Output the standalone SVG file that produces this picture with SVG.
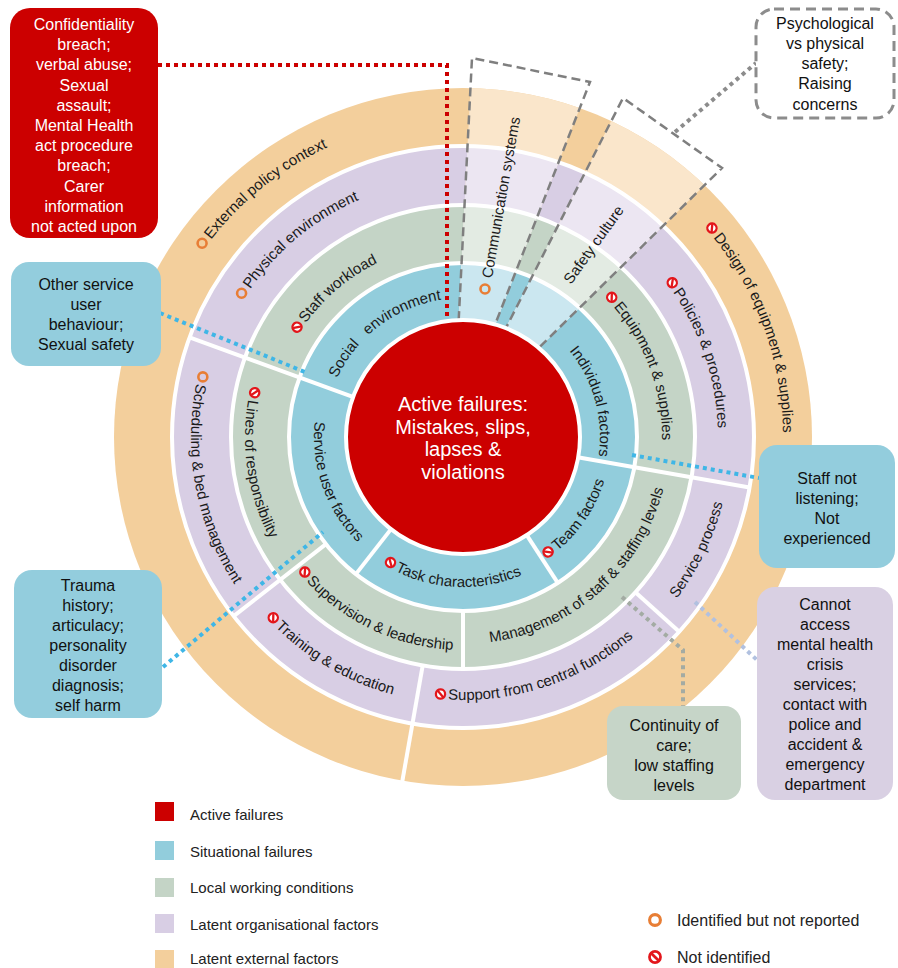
<svg xmlns="http://www.w3.org/2000/svg" width="898" height="968" viewBox="0 0 898 968">
<style>
text{font-family:"Liberation Sans",Arial,sans-serif}
.lbl{font-size:15px;fill:#1a1a1a}
.box{font-size:16px;text-anchor:middle;fill:#111}
.boxw{font-size:16px;text-anchor:middle;fill:#fff}
.leg{font-size:15px;fill:#222}
.leg2{font-size:16px;fill:#222}
.div{stroke:#fff;stroke-width:4}
.ring{stroke:#fff;stroke-width:4}
.dot{fill:none;stroke-width:4;stroke-dasharray:4 4}
.wedge{fill:none;stroke:#7f7f7f;stroke-width:2.5;stroke-dasharray:9 5}
.ctr{font-size:20px;fill:#fff;text-anchor:middle}
</style>
<defs>
<clipPath id="wedges"><polygon points="453,432 472,58 590,82"/><polygon points="453,432 623,98 722,168"/></clipPath>
<g id="ico-o"><circle r="4.5" fill="none" stroke="#E87E35" stroke-width="2.6"/></g>
<g id="ico-x"><circle r="4.6" fill="#fff" stroke="#E3161B" stroke-width="2.3"/><line x1="-3.2" y1="-3.2" x2="3.2" y2="3.2" stroke="#E3161B" stroke-width="2.3"/></g>
<path id="p1" d="M325.35,417.65 A139,139 0 0 1 482.35,299.35"/>
<path id="p2" d="M531.5,318.36 A137,137 0 0 1 582.82,503.42"/>
<path id="p3" d="M551.03,555.98 A148,148 0 0 0 611,437"/>
<path id="p4" d="M388,566.9 A150,150 0 0 0 559.42,551.9"/>
<path id="p5" d="M327.96,374.03 A149,149 0 0 0 397.68,570.92"/>
<path id="p6" d="M301.22,329.93 A194,194 0 0 1 429.32,245.95"/>
<path id="p7" d="M249.77,391.67 A218,218 0 0 0 308.85,591.15"/>
<path id="p8" d="M301.03,575.32 A213,213 0 0 0 499.98,646.76"/>
<path id="p9" d="M444.95,643.21 A207,207 0 0 0 669.87,444.22"/>
<path id="p10" d="M608.07,300.78 A199,199 0 0 1 658.98,471.55"/>
<path id="p11" d="M245.78,295.95 A259,259 0 0 1 418.04,181.93"/>
<path id="p12" d="M197.96,375.8 A272,272 0 0 0 270.67,629.33"/>
<path id="p13" d="M269.64,621.12 A267,267 0 0 0 463,704"/>
<path id="p14" d="M440.06,699 A263,263 0 0 0 664.46,606.06"/>
<path id="p15" d="M652.5,626.5 A268,268 0 0 0 729.34,466.88"/>
<path id="p16" d="M668.25,285.68 A255,255 0 0 1 714.12,481.28"/>
<path id="p17" d="M206.1,246.22 A320,320 0 0 1 407.43,121.86"/>
<path id="p18" d="M708.12,231.3 A320,320 0 0 1 778.14,492.57"/>
</defs>
<rect width="898" height="968" fill="#fff"/>

<g id="rings">
<circle cx="463" cy="437" r="349" fill="#F3CF9C"/>
<circle class="ring" cx="463" cy="437" r="291" fill="#D8CEE4"/>
<circle class="ring" cx="463" cy="437" r="232" fill="#C4D4C6"/>
<circle class="ring" cx="463" cy="437" r="174" fill="#92CDDC"/>
<g clip-path="url(#wedges)">
<circle cx="463" cy="437" r="349" fill="#FAE6CB"/>
<circle class="ring" cx="463" cy="437" r="291" fill="#ECE6F2"/>
<circle class="ring" cx="463" cy="437" r="232" fill="#E3EBE3"/>
<circle class="ring" cx="463" cy="437" r="174" fill="#CBE7F0"/>
</g>
<g id="dividers">
<line class="div" x1="354.93" y1="397.67" x2="189.55" y2="337.48"/>
<line class="div" x1="392.2" y1="527.62" x2="355.87" y2="574.11"/>
<line class="div" x1="525.63" y1="533.45" x2="557.76" y2="582.93"/>
<line class="div" x1="576.25" y1="456.96" x2="749.58" y2="487.53"/>
<line class="div" x1="325.89" y1="544.13" x2="233.69" y2="616.17"/>
<line class="div" x1="463" y1="611" x2="463" y2="669"/>
<line class="div" x1="422.72" y1="665.47" x2="401.89" y2="783.65"/>
<line class="div" x1="635.4" y1="592.23" x2="679.25" y2="631.71"/>
</g>
</g>

<g id="highlight-wedges">
<polyline class="wedge" points="453,432 472,58 590,82 453,432"/>
<polyline class="wedge" points="453,432 623,98 722,168 453,432"/>
</g>

<g id="connectors">
<polyline class="dot" stroke="#CC0000" stroke-dasharray="4 3.5" points="158,65 447,65 447,322"/>
<line class="dot" stroke="#3FB6E6" x1="160" y1="313" x2="305" y2="372"/>
<line class="dot" stroke="#3FB6E6" x1="163" y1="667" x2="323" y2="532"/>
<line class="dot" stroke="#3FB6E6" x1="632" y1="455" x2="759" y2="478"/>
<line class="dot" stroke="#B1C1E0" x1="695" y1="602" x2="757" y2="660"/>
<polyline class="dot" stroke="#A3ABA3" points="622,597 683,650 683,706"/>
<line class="dot" stroke="#8C8C8C" x1="675" y1="132" x2="756" y2="63"/>
</g>

<g id="active-failures">
<circle cx="463" cy="437" r="117" fill="#CC0000" stroke="#fff" stroke-width="4"/>
<text class="ctr" x="463" y="411">Active failures:</text>
<text class="ctr" x="463" y="433.5">Mistakes, slips,</text>
<text class="ctr" x="463" y="456">lapses &amp;</text>
<text class="ctr" x="463" y="478.5">violations</text>
</g>

<g id="social-environment"><text class="lbl" xml:space="preserve"><textPath href="#p1" startOffset="50%" text-anchor="middle">Social   environment</textPath></text></g>
<g id="individual-factors"><text class="lbl"><textPath href="#p2" startOffset="50%" text-anchor="middle">Individual factors</textPath></text></g>
<g id="team-factors"><use href="#ico-x" transform="translate(548.06,551.96) rotate(-36.5)"/><text class="lbl"><textPath href="#p3" startOffset="8">Team factors</textPath></text></g>
<g id="task-characteristics"><use href="#ico-x" transform="translate(390.5,562.57) rotate(30)"/><text class="lbl"><textPath href="#p4" startOffset="8">Task characteristics</textPath></text></g>
<g id="service-user-factors"><text class="lbl"><textPath href="#p5" startOffset="50%" text-anchor="middle">Service user factors</textPath></text></g>
<g id="staff-workload"><use href="#ico-x" transform="translate(297.05,327.17) rotate(-56.5)"/><text class="lbl"><textPath href="#p6" startOffset="8">Staff workload</textPath></text></g>
<g id="lines-of-responsibility"><use href="#ico-x" transform="translate(254.66,392.71) rotate(102)"/><text class="lbl"><textPath href="#p7" startOffset="8">Lines of responsibility</textPath></text></g>
<g id="supervision-leadership"><use href="#ico-x" transform="translate(304.84,572.08) rotate(49.5)"/><text class="lbl"><textPath href="#p8" startOffset="8">Supervision &amp; leadership</textPath></text></g>
<g id="management-staffing"><text class="lbl"><textPath href="#p9" startOffset="50%" text-anchor="middle">Management of staff &amp; staffing levels</textPath></text></g>
<g id="equipment-supplies"><use href="#ico-x" transform="translate(611.72,297.36) rotate(46.8)"/><text class="lbl"><textPath href="#p10" startOffset="8">Equipment &amp; supplies</textPath></text></g>
<g id="physical-environment"><use href="#ico-o" transform="translate(241.58,293.23)"/><text class="lbl"><textPath href="#p11" startOffset="8">Physical environment</textPath></text></g>
<g id="scheduling-bed-management"><use href="#ico-o" transform="translate(202.84,376.92)"/><text class="lbl"><textPath href="#p12" startOffset="8">Scheduling &amp; bed management</textPath></text></g>
<g id="training-education"><use href="#ico-x" transform="translate(273.26,617.68) rotate(46.4)"/><text class="lbl"><textPath href="#p13" startOffset="8">Training &amp; education</textPath></text></g>
<g id="support-central-functions"><use href="#ico-x" transform="translate(440.5,694.02) rotate(5)"/><text class="lbl"><textPath href="#p14" startOffset="8">Support from central functions</textPath></text></g>
<g id="service-process"><text class="lbl"><textPath href="#p15" startOffset="50%" text-anchor="middle">Service process</textPath></text></g>
<g id="policies-procedures"><use href="#ico-x" transform="translate(672.27,282.72) rotate(53.6)"/><text class="lbl"><textPath href="#p16" startOffset="8">Policies &amp; procedures</textPath></text></g>
<g id="external-policy-context"><use href="#ico-o" transform="translate(202.09,243.23)"/><text class="lbl"><textPath href="#p17" startOffset="8">External policy context</textPath></text></g>
<g id="design-equipment-supplies"><use href="#ico-x" transform="translate(711.95,228.09) rotate(50)"/><text class="lbl"><textPath href="#p18" startOffset="8">Design of equipment &amp; supplies</textPath></text></g>
<g id="communication-systems"><use href="#ico-o" transform="translate(485,289)"/><text class="lbl" transform="translate(487,278) rotate(-80)" x="0" y="5">Communication systems</text></g>
<g id="safety-culture"><text class="lbl" transform="translate(567,282) rotate(-54.4)" x="0" y="5">Safety culture</text></g>

<g id="box-active">
<rect x="10" y="8" width="148" height="230" rx="20" fill="#CC0000"/>
<text class="boxw" x="84" y="30">Confidentiality</text>
<text class="boxw" x="84" y="50.2">breach;</text>
<text class="boxw" x="84" y="70.4">verbal abuse;</text>
<text class="boxw" x="84" y="90.6">Sexual</text>
<text class="boxw" x="84" y="110.8">assault;</text>
<text class="boxw" x="84" y="131">Mental Health</text>
<text class="boxw" x="84" y="151.2">act procedure</text>
<text class="boxw" x="84" y="171.4">breach;</text>
<text class="boxw" x="84" y="191.6">Carer</text>
<text class="boxw" x="84" y="211.8">information</text>
<text class="boxw" x="84" y="232">not acted upon</text>
</g>
<g id="box-other-service-user">
<rect x="11" y="262" width="150" height="104" rx="18" fill="#93CDDD"/>
<text class="box" x="86" y="290">Other service</text>
<text class="box" x="86" y="310">user</text>
<text class="box" x="86" y="330">behaviour;</text>
<text class="box" x="86" y="350">Sexual safety</text>
</g>
<g id="box-trauma">
<rect x="14" y="570" width="148" height="148" rx="18" fill="#93CDDD"/>
<text class="box" x="88" y="591">Trauma</text>
<text class="box" x="88" y="611">history;</text>
<text class="box" x="88" y="631">articulacy;</text>
<text class="box" x="88" y="651">personality</text>
<text class="box" x="88" y="671">disorder</text>
<text class="box" x="88" y="691">diagnosis;</text>
<text class="box" x="88" y="711">self harm</text>
</g>
<g id="box-staff-not-listening">
<rect x="759" y="445" width="136" height="123" rx="18" fill="#93CDDD"/>
<text class="box" x="827" y="484">Staff not</text>
<text class="box" x="827" y="504">listening;</text>
<text class="box" x="827" y="524">Not</text>
<text class="box" x="827" y="544">experienced</text>
</g>
<g id="box-cannot-access">
<rect x="757" y="587" width="136" height="213" rx="18" fill="#D9D0E3"/>
<text class="box" x="825" y="610">Cannot</text>
<text class="box" x="825" y="630">access</text>
<text class="box" x="825" y="650">mental health</text>
<text class="box" x="825" y="670">crisis</text>
<text class="box" x="825" y="690">services;</text>
<text class="box" x="825" y="710">contact with</text>
<text class="box" x="825" y="730">police and</text>
<text class="box" x="825" y="750">accident &amp;</text>
<text class="box" x="825" y="770">emergency</text>
<text class="box" x="825" y="790">department</text>
</g>
<g id="box-continuity">
<rect x="607" y="706" width="134" height="94" rx="16" fill="#C6D5C8"/>
<text class="box" x="674" y="731">Continuity of</text>
<text class="box" x="674" y="751">care;</text>
<text class="box" x="674" y="771">low staffing</text>
<text class="box" x="674" y="791">levels</text>
</g>
<g id="box-psychological">
<rect x="756" y="9" width="138" height="109" rx="18" fill="#fff" stroke="#8C8C8C" stroke-width="3" stroke-dasharray="10 6"/>
<text class="box" x="825" y="29">Psychological</text>
<text class="box" x="825" y="49">vs physical</text>
<text class="box" x="825" y="69">safety;</text>
<text class="box" x="825" y="89">Raising</text>
<text class="box" x="825" y="109.5">concerns</text>
</g>

<g id="legend">
<rect x="155" y="802" width="19" height="19" fill="#CC0000"/>
<text class="leg" x="190" y="820">Active failures</text>
<rect x="155" y="841" width="19" height="19" fill="#92CDDC"/>
<text class="leg" x="190" y="857">Situational failures</text>
<rect x="155" y="878" width="19" height="19" fill="#C4D4C6"/>
<text class="leg" x="190" y="893">Local working conditions</text>
<rect x="155" y="914" width="19" height="19" fill="#D8CEE4"/>
<text class="leg" x="190" y="930">Latent organisational factors</text>
<rect x="155" y="950" width="19" height="18" fill="#F3CF9C"/>
<text class="leg" x="190" y="964">Latent external factors</text>
<use href="#ico-o" transform="translate(655,920) scale(1.2)"/>
<text class="leg2" x="677" y="926">Identified but not reported</text>
<use href="#ico-x" transform="translate(655,957) scale(1.2)"/>
<text class="leg2" x="677" y="963">Not identified</text>
</g>
</svg>
